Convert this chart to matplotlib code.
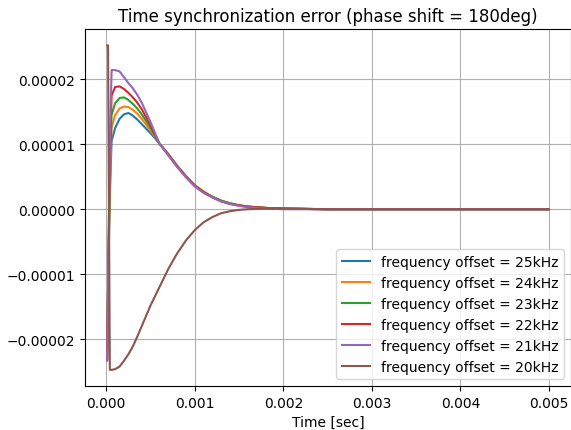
import matplotlib
matplotlib.use("Agg")
import matplotlib.pyplot as plt
import numpy as np

# time samples [sec]
t = [0.00001, 0.00002, 0.00004, 0.00006, 0.0001, 0.00015, 0.0002, 0.00025,
     0.0003, 0.00035, 0.0004, 0.0005, 0.0006, 0.0007, 0.0008, 0.0009, 0.001,
     0.0011, 0.0012, 0.0013, 0.0014, 0.0015, 0.0016, 0.0018, 0.002, 0.0025,
     0.003, 0.004, 0.005]

labels = ["frequency offset = 25kHz", "frequency offset = 24kHz",
          "frequency offset = 23kHz", "frequency offset = 22kHz",
          "frequency offset = 21kHz", "frequency offset = 20kHz"]

# errors in units of 1e-5 sec
err_25 = [-2.30, -1.20, 0.20, 1.05, 1.25, 1.39, 1.46, 1.48, 1.44, 1.38, 1.31, 1.17, 1.01,
          0.85, 0.67, 0.51, 0.37, 0.27, 0.19, 0.13, 0.09, 0.06, 0.04, 0.02, 0.01,
          0.0, 0.0, 0.0, 0.0]
err_24 = [-2.30, -1.20, 0.40, 1.25, 1.45, 1.55, 1.58, 1.57, 1.53, 1.47, 1.39, 1.21, 1.01,
          0.85, 0.67, 0.51, 0.37, 0.27, 0.19, 0.13, 0.09, 0.06, 0.04, 0.02, 0.01,
          0.0, 0.0, 0.0, 0.0]
err_23 = [-2.30, -1.20, 0.60, 1.45, 1.63, 1.71, 1.72, 1.68, 1.62, 1.55, 1.46, 1.25, 1.01,
          0.84, 0.66, 0.50, 0.36, 0.26, 0.19, 0.13, 0.09, 0.06, 0.04, 0.02, 0.01,
          0.0, 0.0, 0.0, 0.0]
err_22 = [-2.32, -1.20, 0.80, 1.75, 1.88, 1.89, 1.85, 1.79, 1.72, 1.64, 1.54, 1.29, 1.01,
          0.84, 0.66, 0.50, 0.36, 0.26, 0.18, 0.12, 0.08, 0.06, 0.04, 0.02, 0.01,
          0.0, 0.0, 0.0, 0.0]
err_21 = [-2.33, -1.20, 1.00, 2.14, 2.14, 2.12, 2.03, 1.94, 1.86, 1.76, 1.64, 1.34, 1.01,
          0.83, 0.65, 0.49, 0.35, 0.25, 0.18, 0.12, 0.08, 0.05, 0.03, 0.01, 0.0,
          0.0, 0.0, 0.0, 0.0]
err_20 = [2.52, 2.52, -2.47, -2.47, -2.46, -2.42, -2.33, -2.23, -2.11, -1.96, -1.80, -1.48,
          -1.20, -0.92, -0.68, -0.48, -0.32, -0.20, -0.12, -0.06, -0.03, -0.01, 0.0,
          0.01, 0.01, 0.0, 0.0, 0.0, 0.0]

series = [err_25, err_24, err_23, err_22, err_21, err_20]

fig = plt.figure(figsize=(5.71, 4.31), dpi=100)
ax = fig.add_axes([0.149, 0.102, 0.851, 0.828])

for vals, lab in zip(series, labels):
    ax.plot(t, np.array(vals) * 1e-5, label=lab)

ax.set_title("Time synchronization error (phase shift = 180deg)")
ax.set_xlabel("Time [sec]")
ax.ticklabel_format(style="plain", useOffset=False)
ax.grid(True)
ax.legend(loc="lower right")

fig.savefig("out.png", dpi=100)
